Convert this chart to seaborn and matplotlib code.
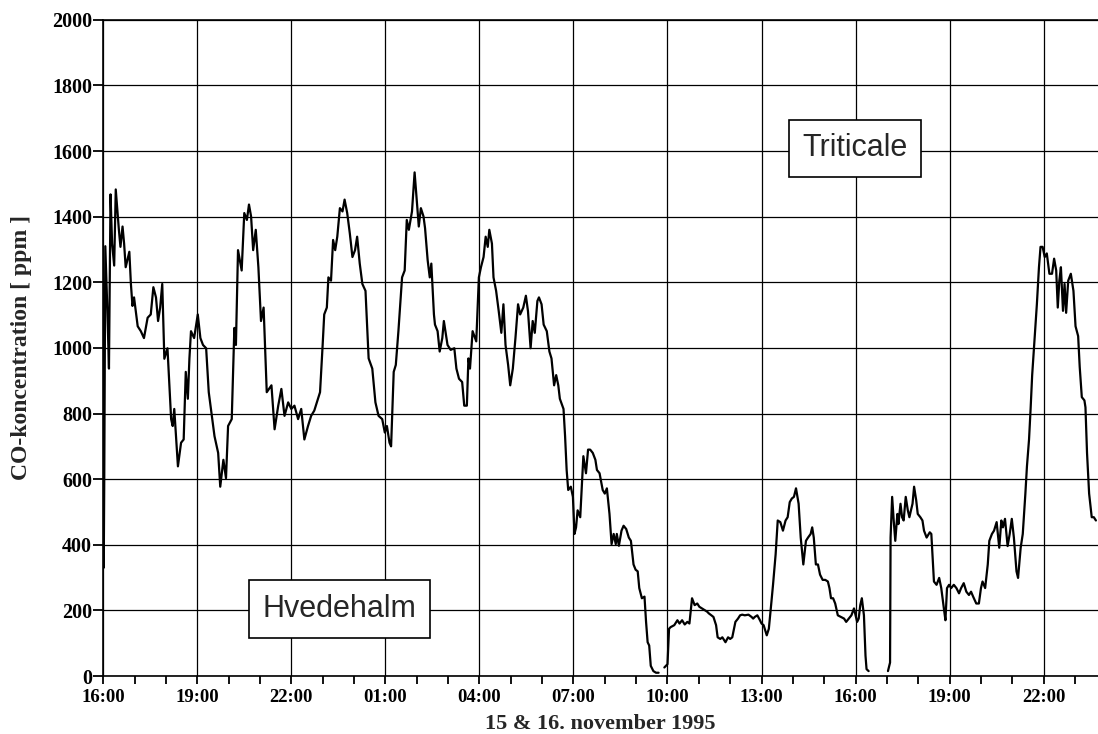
import matplotlib
matplotlib.use("Agg")
import matplotlib.pyplot as plt
import numpy as np
import pandas as pd
import seaborn as sns
from matplotlib.ticker import MultipleLocator

# CO concentration (ppm), time in minutes after 16:00 on 15 november 1995.
# The logger dropped out twice, so the trace comes in three parts.
t_part1 = [0, 1, 2, 4, 8, 11, 14, 17, 21, 24, 27, 30, 33, 37, 40, 43, 50, 53, 56, 59,
           66, 72, 78, 85, 91, 96, 101, 105, 109, 113, 117, 123, 130, 133, 136, 143, 149,
           154, 158, 162, 165, 168, 174, 181, 186, 191, 197, 202, 213, 220, 224, 230, 235,
           239, 246, 251, 254, 258, 265, 270, 275, 279, 283, 287, 292, 297, 302, 307, 313,
           322, 328, 335, 341, 347, 354, 360, 366, 373, 379, 385, 392, 398, 404, 411, 415,
           420, 423, 428, 431, 436, 440, 444, 448, 453, 458, 462, 467, 472, 477, 482, 486,
           491, 496, 502, 508, 515, 521, 527, 534, 539, 543, 548, 551, 556, 560, 565, 572,
           577, 581, 585, 591, 596, 600, 604, 608, 613, 616, 621, 625, 628, 633,
           635, 640, 644, 649, 652, 659, 665, 672, 676, 681, 687, 691, 696, 699, 702, 707,
           714, 719, 723, 728, 732, 736, 739, 744, 747, 752, 757, 762, 766, 770, 775, 779,
           784, 789, 794, 798, 804, 809, 813, 818, 822, 826, 831, 834, 839, 843, 849, 854,
           858, 863, 867, 871, 874, 881, 884, 887, 890, 895, 899, 902, 905, 908, 913, 916,
           919, 924, 928, 932, 937, 942, 945, 950,
           956, 960, 964, 969, 973, 977, 981, 983, 987, 992, 996, 1001, 1006, 1010, 1015,
           1019, 1023, 1026, 1031, 1036, 1039, 1042, 1045, 1048, 1053, 1058, 1063]
co_part1 = [800, 330, 600, 1310, 1112, 937, 1468, 1318, 1251, 1483, 1421, 1360, 1308, 1370,
            1318, 1246, 1293, 1195, 1128, 1154, 1066, 1051, 1030, 1092, 1102, 1185, 1154,
            1082, 1123, 1195, 967, 999, 783, 762, 814, 639, 711, 721, 927, 845, 968, 1051,
            1030, 1102, 1030, 1009, 999, 865, 731, 680, 577, 659, 603, 762, 783, 1061, 1009,
            1298, 1236, 1411, 1390, 1437, 1401, 1298, 1360, 1246, 1082, 1123, 865,
            886, 752, 824, 875, 793, 834, 814, 824, 783, 814, 721, 762, 793, 809, 845, 865,
            1009, 1102, 1123, 1215, 1205, 1329, 1298, 1339, 1426, 1416, 1452, 1411, 1349,
            1277, 1298, 1339, 1257, 1195, 1174, 968, 937, 834, 793, 783, 742, 762, 711, 700,
            927, 948, 1051, 1215, 1236, 1390, 1360, 1416, 1535, 1452, 1370, 1426, 1401, 1365,
            1267, 1215, 1257, 1102,
            1071, 1051, 989, 1030, 1082, 1009, 994, 999, 937, 906, 896, 824, 824, 968, 937,
            1051, 1020, 1215, 1246, 1277, 1339, 1308, 1360, 1318, 1215, 1174, 1112, 1046,
            1133, 1009, 948, 886, 937, 1030, 1133, 1102, 1123, 1159, 1112, 999, 1082, 1046,
            1143, 1154, 1133, 1071, 1051, 989, 968, 886, 917, 886, 845, 814, 731, 628, 567,
            577, 546, 433, 453, 505, 484, 577, 670, 618, 690, 690, 680, 659, 628, 618,
            567, 556, 572, 494, 402, 433, 402, 433, 397, 443, 458, 448, 422, 412, 340, 324,
            319, 268, 237, 242, 165, 103, 93, 31, 15, 10, 10]

t_part2 = [1074, 1080, 1083, 1086, 1093, 1099, 1103, 1108, 1113, 1118, 1122, 1127, 1132,
           1137, 1141, 1146, 1151, 1156, 1159, 1164, 1168, 1173, 1176, 1181, 1185, 1191,
           1196, 1200, 1204, 1210, 1215, 1219, 1223, 1228, 1235, 1241, 1244, 1247, 1252,
           1257, 1260, 1264, 1270, 1274, 1279, 1282, 1287, 1291, 1296, 1301, 1306, 1310,
           1314, 1318, 1322, 1326, 1331, 1335, 1340, 1345, 1349, 1354, 1357, 1360, 1364,
           1368, 1372, 1377, 1382, 1387, 1390, 1393, 1397, 1401, 1406, 1412, 1418, 1422,
           1427, 1432, 1437, 1440, 1443, 1446, 1449, 1452, 1456, 1459, 1461, 1465]
co_part2 = [26, 36, 144, 149, 155, 170, 160, 170, 157, 165, 160, 237, 216, 221, 211, 206,
            201, 196, 191, 185, 180, 155, 118, 113, 118, 103, 118, 113, 118, 165, 175, 185,
            187, 185, 187, 180, 175, 180, 185, 170, 160, 155, 124, 144, 227, 278, 371, 474,
            469, 443, 474, 484, 530, 541, 546, 572, 525, 422, 340, 412, 422, 433, 453, 422,
            340, 340, 309, 293, 293, 288, 268, 237, 237, 221, 185, 180, 175, 165, 175, 185,
            206, 185, 165, 175, 216, 237, 185, 62, 21, 15]

t_part3 = [1502, 1506, 1507, 1510, 1513, 1516, 1520, 1522, 1526, 1529, 1532, 1536, 1540,
           1543, 1546, 1549, 1552, 1556, 1559, 1564, 1568, 1571, 1576, 1582, 1585, 1590,
           1595, 1600, 1604, 1609, 1612, 1615, 1619, 1623, 1628, 1633, 1638, 1642, 1647,
           1652, 1657, 1661, 1665, 1671, 1676, 1680, 1683, 1688, 1693, 1696, 1701, 1705,
           1710, 1715, 1719, 1722, 1726, 1731, 1735, 1739, 1743, 1748, 1751, 1756, 1760,
           1765, 1768, 1772, 1775, 1778, 1781, 1784, 1787, 1791, 1794, 1798, 1802, 1806,
           1811, 1816, 1820, 1824, 1827, 1830, 1833, 1837, 1840, 1843, 1847, 1852, 1857,
           1861, 1866, 1869, 1873, 1878, 1880, 1883, 1887, 1892, 1896, 1900]
co_part3 = [15, 41, 422, 546, 474, 412, 494, 463, 525, 484, 474, 546, 505, 484, 505, 525,
            577, 536, 494, 484, 474, 443, 422, 438, 433, 288, 278, 299, 268, 206, 170, 268,
            278, 268, 278, 268, 252, 268, 283, 257, 247, 257, 242, 221, 221, 268, 288, 268,
            340, 412, 433, 443, 469, 391, 474, 453, 479, 396, 433, 479, 422, 319, 299, 391,
            433, 556, 639, 721, 814, 917, 989, 1061, 1133, 1246, 1308, 1308, 1277, 1288,
            1226, 1226, 1272, 1236, 1123, 1205, 1246, 1113, 1195, 1107, 1205, 1226, 1174,
            1066, 1036, 942, 850, 840, 819, 680, 556, 484, 484, 474]

time_ticks = [0, 180, 360, 540, 720, 900, 1080, 1260, 1440, 1620, 1800]
time_labels = ["16:00", "19:00", "22:00", "01:00", "04:00", "07:00",
               "10:00", "13:00", "16:00", "19:00", "22:00"]
co_ticks = [0, 200, 400, 600, 800, 1000, 1200, 1400, 1600, 1800, 2000]

sns.set_style("ticks")
plt.rcParams["font.family"] = ["Liberation Serif", "DejaVu Serif"]

df = pd.concat([
    pd.DataFrame({"minutes": t_part1, "co": co_part1, "part": 1}),
    pd.DataFrame({"minutes": t_part2, "co": co_part2, "part": 2}),
    pd.DataFrame({"minutes": t_part3, "co": co_part3, "part": 3}),
])

fig = plt.figure(figsize=(10.98, 7.34), dpi=100)
ax = fig.add_axes([0.094, 0.079, 0.906, 0.894])

sns.lineplot(data=df, x="minutes", y="co", units="part", estimator=None,
             sort=False, color="black", linewidth=1.6, ax=ax, zorder=3)

ax.set_xlim(0, 1904)
ax.set_ylim(0, 2000)
ax.set_xticks(time_ticks)
ax.set_xticklabels(time_labels)
ax.xaxis.set_minor_locator(MultipleLocator(60))
ax.set_yticks(co_ticks)

ax.grid(True, which="major", color="black", linewidth=0.9)
ax.set_axisbelow(True)

for side in ["left", "bottom", "top"]:
    ax.spines[side].set_color("black")
    ax.spines[side].set_linewidth(1.2)
ax.spines["right"].set_visible(False)

ax.tick_params(axis="x", which="both", direction="out", length=6, width=1.3,
               colors="black", labelsize=13.5, pad=3)
ax.tick_params(axis="y", which="major", direction="out", length=7, width=1.3,
               colors="black", labelsize=14.5, pad=1)
for lab in ax.get_xticklabels() + ax.get_yticklabels():
    lab.set_fontweight("bold")

ax.set_xlabel("15 & 16. november 1995", fontsize=16, fontweight="bold")
ax.set_ylabel("CO-koncentration [ ppm ]", fontsize=17, fontweight="bold")
ax.xaxis.set_label_coords(0.5, -0.058)
ax.yaxis.set_label_coords(-0.072, 0.5)

box = dict(boxstyle="square,pad=0.45", facecolor="white", edgecolor="black", linewidth=1.2)
ax.text(452, 205, "Hvedehalm", ha="center", va="center", fontsize=22,
        family=["Liberation Sans", "DejaVu Sans"], bbox=box, zorder=5)
ax.text(1439, 1608, "Triticale", ha="center", va="center", fontsize=22,
        family=["Liberation Sans", "DejaVu Sans"], bbox=box, zorder=5)

fig.savefig("out.png", dpi=100)
